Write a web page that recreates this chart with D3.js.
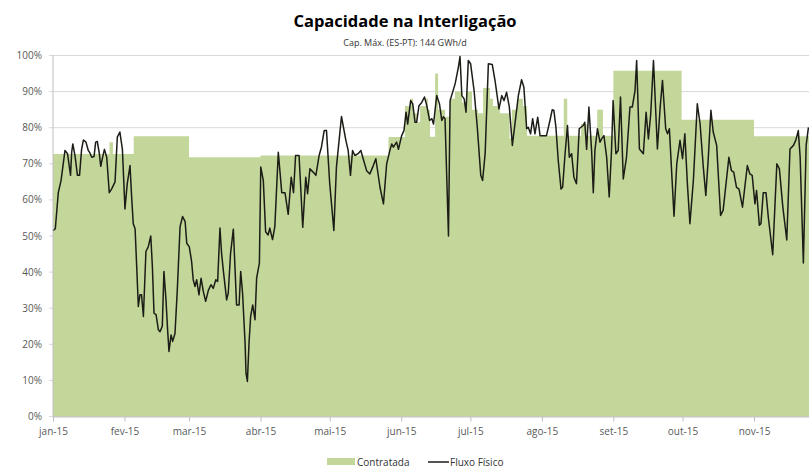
<!DOCTYPE html>
<html>
<head>
<meta charset="utf-8">
<script src="https://cdn.jsdelivr.net/npm/d3@7"></script>
<style>
  body { margin: 0; background: #fff; }
  svg { display: block; font-family: 'Open Sans', sans-serif; }
</style>
</head>
<body>
<svg id="chart" width="809" height="468"></svg>
<script>
// dias desde 1-jan-2015 e valores em % da capacidade máxima
let fluxoDia = [0, 1, 2.3, 3.5, 5.2, 6.3, 7.6, 8.1, 8.6, 9.6, 10.6, 11.5, 12.4, 13.2, 14.3, 15.3, 16, 16.8, 17.8, 18.5, 19.2, 20.1, 20.7, 21.5, 22.3, 23.3, 24.4, 25.4, 26.9, 27.9, 29, 30.1, 31.2, 32.2, 33.4, 34.1, 34.8, 35.6, 36.3, 37, 37.7, 38.4, 39.2, 40.3, 41.3, 42.4, 43.1, 43.8, 44.7, 45.7, 46.4, 47.4, 48.1, 49, 49.7, 50.3, 51.2, 51.9, 52.9, 53.9, 55.1, 56.2, 57.3, 58, 59.1, 60.1, 60.8, 61.6, 62.3, 63.3, 64.2, 65.2, 66.2, 67.4, 68.5, 69.5, 70.6, 71.4, 72.4, 73.1, 73.9, 75.3, 76, 77, 78.2, 78.9, 79.6, 80.7, 81.4, 82.2, 83.3, 83.7, 84.3, 85, 85.7, 86.6, 87.6, 88.3, 89.5, 90.1, 91.2, 92.2, 93.3, 94, 95.2, 96.2, 97.7, 99.2, 100.6, 102, 103.3, 104.3, 105.2, 106.7, 108.3, 109.6, 110.4, 111.4, 112.8, 114, 115.4, 116.4, 117.6, 118.6, 120, 121.8, 122.9, 125.1, 127, 128, 129, 129.9, 130.9, 132.3, 133.5, 134.5, 136, 137.4, 138.9, 140, 141.8, 143.3, 144.7, 146.2, 146.9, 147.6, 149, 149.8, 151.2, 152.2, 153.1, 153.8, 155.1, 156, 157, 157.7, 158.7, 159.9, 161.1, 162.1, 163.3, 164.3, 165, 166.4, 167.6, 168.6, 169.3, 170, 171.5, 172.2, 174.4, 175.8, 176.5, 177.3, 178.3, 179.1, 180.1, 181.1, 182.6, 184, 185.5, 186.3, 187.4, 188.8, 190.5, 191.7, 193.4, 194.6, 195.6, 196.7, 197.9, 199.2, 200.6, 201.8, 203.2, 204.2, 205.4, 206.1, 207.1, 208, 209, 210.2, 211.2, 212.6, 214, 215.5, 216.5, 217.2, 218.1, 219.1, 220.3, 221, 222, 223.1, 223.9, 224.9, 225.9, 227, 228.2, 229.9, 230.6, 231.4, 232.4, 233.6, 234.3, 235, 236.1, 237.2, 237.9, 238.9, 240.1, 241.2, 242.2, 242.9, 244.1, 245.1, 246.1, 247.3, 248.7, 250.2, 251.2, 252.4, 253.1, 254.3, 256, 257.2, 258.2, 259.2, 260.4, 262.1, 263.3, 264.3, 265.7, 266.5, 267.3, 268.4, 269.3, 270.5, 271.9, 273, 274, 275.1, 276.2, 277.7, 279.4, 280.6, 282, 283.1, 284.1, 285.3, 286.3, 287.8, 289.5, 290.6, 293.1, 294.2, 295.2, 296.4, 297.5, 299, 300, 301.1, 302.2, 303.2, 304.4, 305.1, 306.3, 307, 308, 309.2, 310.2, 312.1, 313.9, 315, 316.5, 318.2, 319.6, 321.1, 322.1, 323.2, 324, 325.4, 326.6, 327.6]
let fluxoValor = [51.5, 52, 62, 65.4, 73.7, 72.8, 66.8, 73.2, 75.5, 72, 66.8, 66.8, 74, 76.6, 76, 73.7, 73, 71.8, 72, 76, 76.2, 72.8, 69.3, 71.8, 74, 71.8, 62, 63, 65, 77.4, 78.8, 74, 57.5, 64.5, 69.5, 60.8, 53.4, 52, 41.5, 30.5, 33.7, 33.7, 27.7, 45.7, 47, 50, 41.5, 28.6, 28.2, 24, 23.5, 25, 40.2, 32.3, 24, 18, 22.6, 20.8, 23, 35, 52.6, 55.4, 54, 48, 47, 43, 37.9, 36, 37.9, 33.7, 38.3, 34.6, 31.9, 35, 36.5, 35.5, 37.9, 37.4, 52.2, 45.2, 40.2, 32.3, 34.2, 45.2, 51.9, 41.5, 30.9, 30.9, 40.2, 34.2, 20.3, 12, 9.7, 20.3, 27.7, 30.9, 26.8, 38.3, 42.5, 69.1, 65.4, 51.2, 50.3, 52.2, 49, 52.6, 73.2, 62, 62, 56, 66.3, 62, 72.3, 72.3, 52.4, 66.3, 61.7, 68.6, 67.7, 66.8, 72.3, 74.6, 79.2, 79.2, 64.5, 51.5, 69, 83.1, 76.5, 73.7, 66.8, 73.7, 72.3, 72.8, 73.7, 71.4, 68.1, 67.2, 69.5, 71.4, 63.5, 58.9, 70, 74, 75.5, 74.6, 76, 74, 77.8, 79.2, 84.3, 81, 87.5, 86.6, 81.5, 81.5, 86.1, 87, 88.5, 86.1, 82, 82.5, 81, 88.9, 86.6, 82, 83, 82.5, 50, 87.5, 92.2, 96.8, 99.7, 88.9, 88, 84.3, 98.6, 97.7, 90.3, 80.1, 66.8, 65.4, 72.8, 97.7, 97.5, 93, 85.2, 88.9, 87.5, 89.8, 85.7, 75.1, 82.5, 88.9, 93.3, 91.2, 79.7, 80.1, 78.3, 82.5, 78.3, 82.9, 77.8, 77.8, 77.8, 82, 85, 84.8, 80.1, 70.9, 63, 63.5, 72.3, 80.6, 71.8, 72.8, 66.3, 64.5, 79.7, 80.6, 81.5, 74, 85.7, 73.2, 62, 73.7, 79.7, 76, 76.9, 77.8, 71.8, 60.8, 73.7, 87.5, 72.8, 73.7, 88.5, 65.8, 71.8, 85.7, 85.7, 90.3, 98.6, 74.1, 72.8, 84.3, 76.9, 83.8, 98.6, 74.1, 85.7, 93.1, 79.7, 78.3, 79.7, 66.3, 55.5, 70, 76.5, 71.4, 78.3, 64.5, 53.4, 65.4, 86.6, 81.1, 69.1, 61.2, 70.9, 84.8, 78.8, 75.1, 55.7, 57.1, 71.8, 68.1, 67.7, 63.5, 63, 58, 63.5, 69.5, 67.2, 66.8, 58.9, 62.6, 53, 53.4, 62, 62, 55.2, 44.8, 70, 68.6, 58, 48.9, 74.1, 75.1, 76.5, 79.2, 71.8, 42.5, 75.1, 80.1]

// capacidade contratada (degraus diários)
let contratadaDia = [0, 24.5, 26, 35, 59, 90, 145.5, 152.6, 154.8, 156.1, 157.8, 159.2, 161.8, 162.6, 163.5, 165.7, 167, 170, 172.2, 174.3, 177.4, 179.5, 181.7, 184.3, 186.5, 189.5, 190.8, 193.8, 198, 199, 201.2, 203.8, 205.6, 221.5, 223, 229, 231.5, 236, 238.5, 243, 272.6, 304, 365]
let contratadaValor = [72.7, 76, 72.7, 77.6, 71.8, 72.3, 77.4, 86, 88, 84, 81.5, 86, 88, 85, 77.5, 95, 85, 83, 88, 90, 87, 90, 85, 84, 91, 88, 86, 84, 77, 85, 88, 86, 77.8, 88, 77.8, 81, 77.8, 85, 77.8, 95.8, 82.2, 77.6, 77.6]

let mesesLabels = ['jan-15', 'fev-15', 'mar-15', 'abr-15', 'mai-15', 'jun-15', 'jul-15', 'ago-15', 'set-15', 'out-15', 'nov-15']
let yTicks = [0, 10, 20, 30, 40, 50, 60, 70, 80, 90, 100]

let inicio = new Date(Date.UTC(2015, 0, 1))
let fim = new Date(Date.UTC(2016, 0, 1))
let toDate = dia => new Date(inicio.getTime() + dia * 864e5)

let fluxo = fluxoDia.map((d, i) => ({ date: toDate(d), v: fluxoValor[i] }))
let contratada = contratadaDia.map((d, i) => ({ date: toDate(d), v: contratadaValor[i] }))
let meses = d3.utcMonth.range(inicio, fim).slice(0, mesesLabels.length)

let plotLeft = 53, plotTop = 55.5, plotBottom = 416.5
let x = d3.scaleUtc()
  .domain([inicio, fim])
  .range([plotLeft, plotLeft + 365 * 2.306])
let y = d3.scaleLinear().domain([0, 100]).range([plotBottom, plotTop])

let svg = d3.select('#chart')

// gridlines
svg.append('g')
  .selectAll('line')
  .data(yTicks)
  .enter()
  .append('line')
  .attr('x1', plotLeft - 4)
  .attr('x2', 809)
  .attr('y1', d => y(d))
  .attr('y2', d => y(d))
  .style('stroke', '#d9d9d9')
  .style('stroke-width', 1)

// area contratada
let area = d3.area()
  .curve(d3.curveStepAfter)
  .x(d => x(d.date))
  .y0(y(0))
  .y1(d => y(d.v))
svg.append('path')
  .datum(contratada)
  .attr('d', area)
  .style('fill', '#c4d79b')

// fluxo fisico
let line = d3.line()
  .x(d => x(d.date))
  .y(d => y(d.v))
svg.append('path')
  .datum(fluxo)
  .attr('d', line)
  .style('fill', 'none')
  .style('stroke', '#1b1d16')
  .style('stroke-width', 1.5)
  .style('stroke-linejoin', 'round')

// eixo y
svg.append('line')
  .attr('x1', plotLeft).attr('x2', plotLeft)
  .attr('y1', plotTop).attr('y2', plotBottom)
  .style('stroke', '#bfbfbf')
svg.append('g')
  .selectAll('text')
  .data(yTicks)
  .enter()
  .append('text')
  .attr('x', 42)
  .attr('y', d => y(d) + 3.5)
  .attr('text-anchor', 'end')
  .style('font-size', '10px')
  .style('fill', '#595959')
  .text(d => d + '%')

// eixo x
let xAxis = d3.axisBottom(x)
  .tickValues(meses)
  .tickSize(5)
  .tickFormat((d, i) => mesesLabels[i])
let gx = svg.append('g')
  .attr('transform', 'translate(0,' + plotBottom + ')')
  .call(xAxis)
gx.select('.domain').style('stroke', '#bfbfbf')
gx.selectAll('.tick line').style('stroke', '#bfbfbf')
gx.selectAll('.tick text')
  .attr('y', 11)
  .style('font-family', "'Open Sans', sans-serif")
  .style('font-size', '10px')
  .style('fill', '#595959')

// titulos
svg.append('text')
  .attr('x', 405)
  .attr('y', 27)
  .attr('text-anchor', 'middle')
  .style('font-size', '16.5px')
  .style('font-weight', 'bold')
  .style('fill', '#000')
  .text('Capacidade na Interligação')
svg.append('text')
  .attr('x', 405)
  .attr('y', 46)
  .attr('text-anchor', 'middle')
  .style('font-size', '9px')
  .style('fill', '#333')
  .text('Cap. Máx. (ES-PT): 144 GWh/d')

// legenda
let legend = svg.append('g').attr('transform', 'translate(0,462)')
legend.append('rect')
  .attr('x', 327).attr('y', -4)
  .attr('width', 28).attr('height', 7)
  .style('fill', '#c4d79b')
legend.append('text')
  .attr('x', 357).attr('y', 3.5)
  .style('font-size', '10px')
  .style('fill', '#333')
  .text('Contratada')
legend.append('line')
  .attr('x1', 428).attr('x2', 449)
  .attr('y1', 0).attr('y2', 0)
  .style('stroke', '#1b1d16')
  .style('stroke-width', 1.5)
legend.append('text')
  .attr('x', 450).attr('y', 3.5)
  .style('font-size', '10px')
  .style('fill', '#333')
  .text('Fluxo Físico')
</script>
</body>
</html>
